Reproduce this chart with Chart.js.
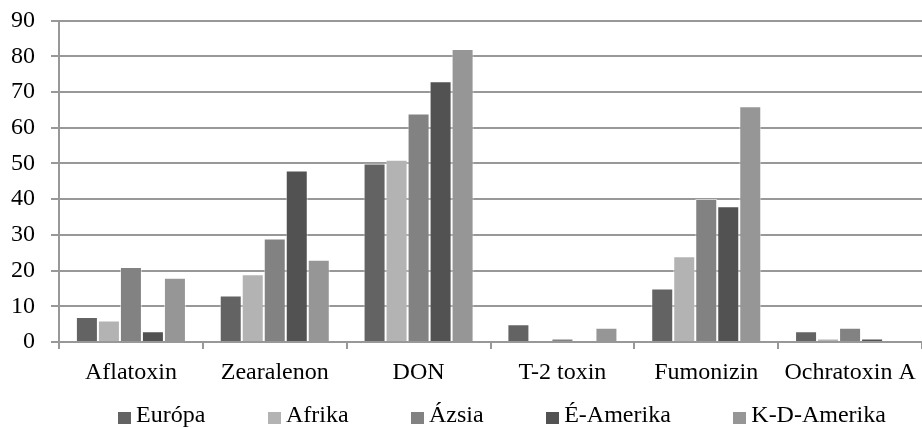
<!DOCTYPE html>
<html>
<head>
<meta charset="utf-8">
<script src="https://cdn.jsdelivr.net/npm/chart.js@4.4.1/dist/chart.umd.min.js"></script>
<style>
  html, body { margin: 0; padding: 0; background: #ffffff; }
  #wrap { width: 922px; height: 428px; position: relative; }
</style>
</head>
<body>
<div id="wrap"><canvas id="chart"></canvas></div>
<script>
// Mycotoxin occurrence by region (%)
const categories = ['Aflatoxin', 'Zearalenon', 'DON', 'T-2 toxin', 'Fumonizin', 'Ochratoxin A'];
const seriesNames = ['Európa', 'Afrika', 'Ázsia', 'É-Amerika', 'K-D-Amerika'];
const europa    = [7, 13, 50, 5, 15, 3];
const afrika    = [6, 19, 51, 0, 24, 1];
const azsia     = [21, 29, 64, 1, 40, 4];
const eAmerika  = [3, 48, 73, 0, 38, 1];
const kdAmerika = [18, 23, 82, 4, 66, 0];
const yTickValues = [0, 10, 20, 30, 40, 50, 60, 70, 80, 90];

const seriesValues = [europa, afrika, azsia, eAmerika, kdAmerika];
const seriesColors = ['#636363', '#b3b3b3', '#828282', '#525252', '#969696'];

const FONT_FAMILY = '"Liberation Serif", "DejaVu Serif", serif';
const FONT_SIZE = 24;
const AXIS_GRAY = '#989898';

// Legend row under the axis: small square swatch followed by the series name
const bottomLegend = {
  id: 'bottomLegend',
  afterDraw(chart) {
    const ctx = chart.ctx;
    const boxW = 13, boxH = 12, gap = 5, spacing = 62.5;
    const centerX = 502, centerY = 416;
    ctx.save();
    ctx.font = FONT_SIZE + 'px ' + FONT_FAMILY;
    ctx.textBaseline = 'middle';
    ctx.textAlign = 'left';
    const items = chart.data.datasets.map(ds => ({
      text: ds.label,
      color: ds.backgroundColor,
      w: ctx.measureText(ds.label).width
    }));
    const total = items.reduce((s, it) => s + boxW + gap + it.w, 0) + spacing * (items.length - 1);
    let x = centerX - total / 2;
    items.forEach(it => {
      ctx.fillStyle = it.color;
      ctx.fillRect(Math.round(x), Math.round(centerY - 4), boxW, boxH);
      x += boxW + gap;
      ctx.fillStyle = '#000000';
      ctx.fillText(it.text, x, centerY);
      x += it.w + spacing;
    });
    ctx.restore();
  }
};

const datasets = seriesNames.map((name, i) => ({
  label: name,
  data: seriesValues[i],
  backgroundColor: seriesColors[i],
  borderColor: 'rgba(255,255,255,0.55)',
  borderWidth: 1,
  barPercentage: 1.0,
  categoryPercentage: 0.765
}));

new Chart(document.getElementById('chart'), {
  type: 'bar',
  data: { labels: categories, datasets },
  plugins: [bottomLegend],
  options: {
    responsive: true,
    maintainAspectRatio: false,
    animation: false,
    layout: { padding: { top: 20.5, left: 11, right: 0, bottom: 42 } },
    plugins: {
      legend: { display: false },
      tooltip: { enabled: false }
    },
    scales: {
      x: {
        offset: true,
        afterFit(scale) {
          scale.height = 44;
          scale.paddingLeft = 0;
          scale.paddingRight = 0;
        },
        grid: {
          display: true,
          offset: true,
          drawOnChartArea: false,
          drawTicks: true,
          tickLength: 7,
          color: AXIS_GRAY,
          lineWidth: 2
        },
        border: { display: true, color: AXIS_GRAY, width: 2 },
        ticks: {
          padding: 9,
          color: '#000000',
          maxRotation: 0,
          autoSkip: false,
          font: { family: FONT_FAMILY, size: FONT_SIZE }
        }
      },
      y: {
        min: 0,
        max: 90,
        afterBuildTicks(scale) {
          scale.ticks = yTickValues.map(v => ({ value: v }));
        },
        afterFit(scale) {
          scale.width = 48;
          scale.paddingTop = 0;
          scale.paddingBottom = 0;
        },
        grid: {
          color: AXIS_GRAY,
          lineWidth: 2,
          tickLength: 8,
          drawTicks: true
        },
        border: { display: true, color: AXIS_GRAY, width: 2 },
        ticks: {
          padding: 16,
          color: '#000000',
          font: { family: FONT_FAMILY, size: FONT_SIZE }
        }
      }
    }
  }
});
</script>
</body>
</html>
